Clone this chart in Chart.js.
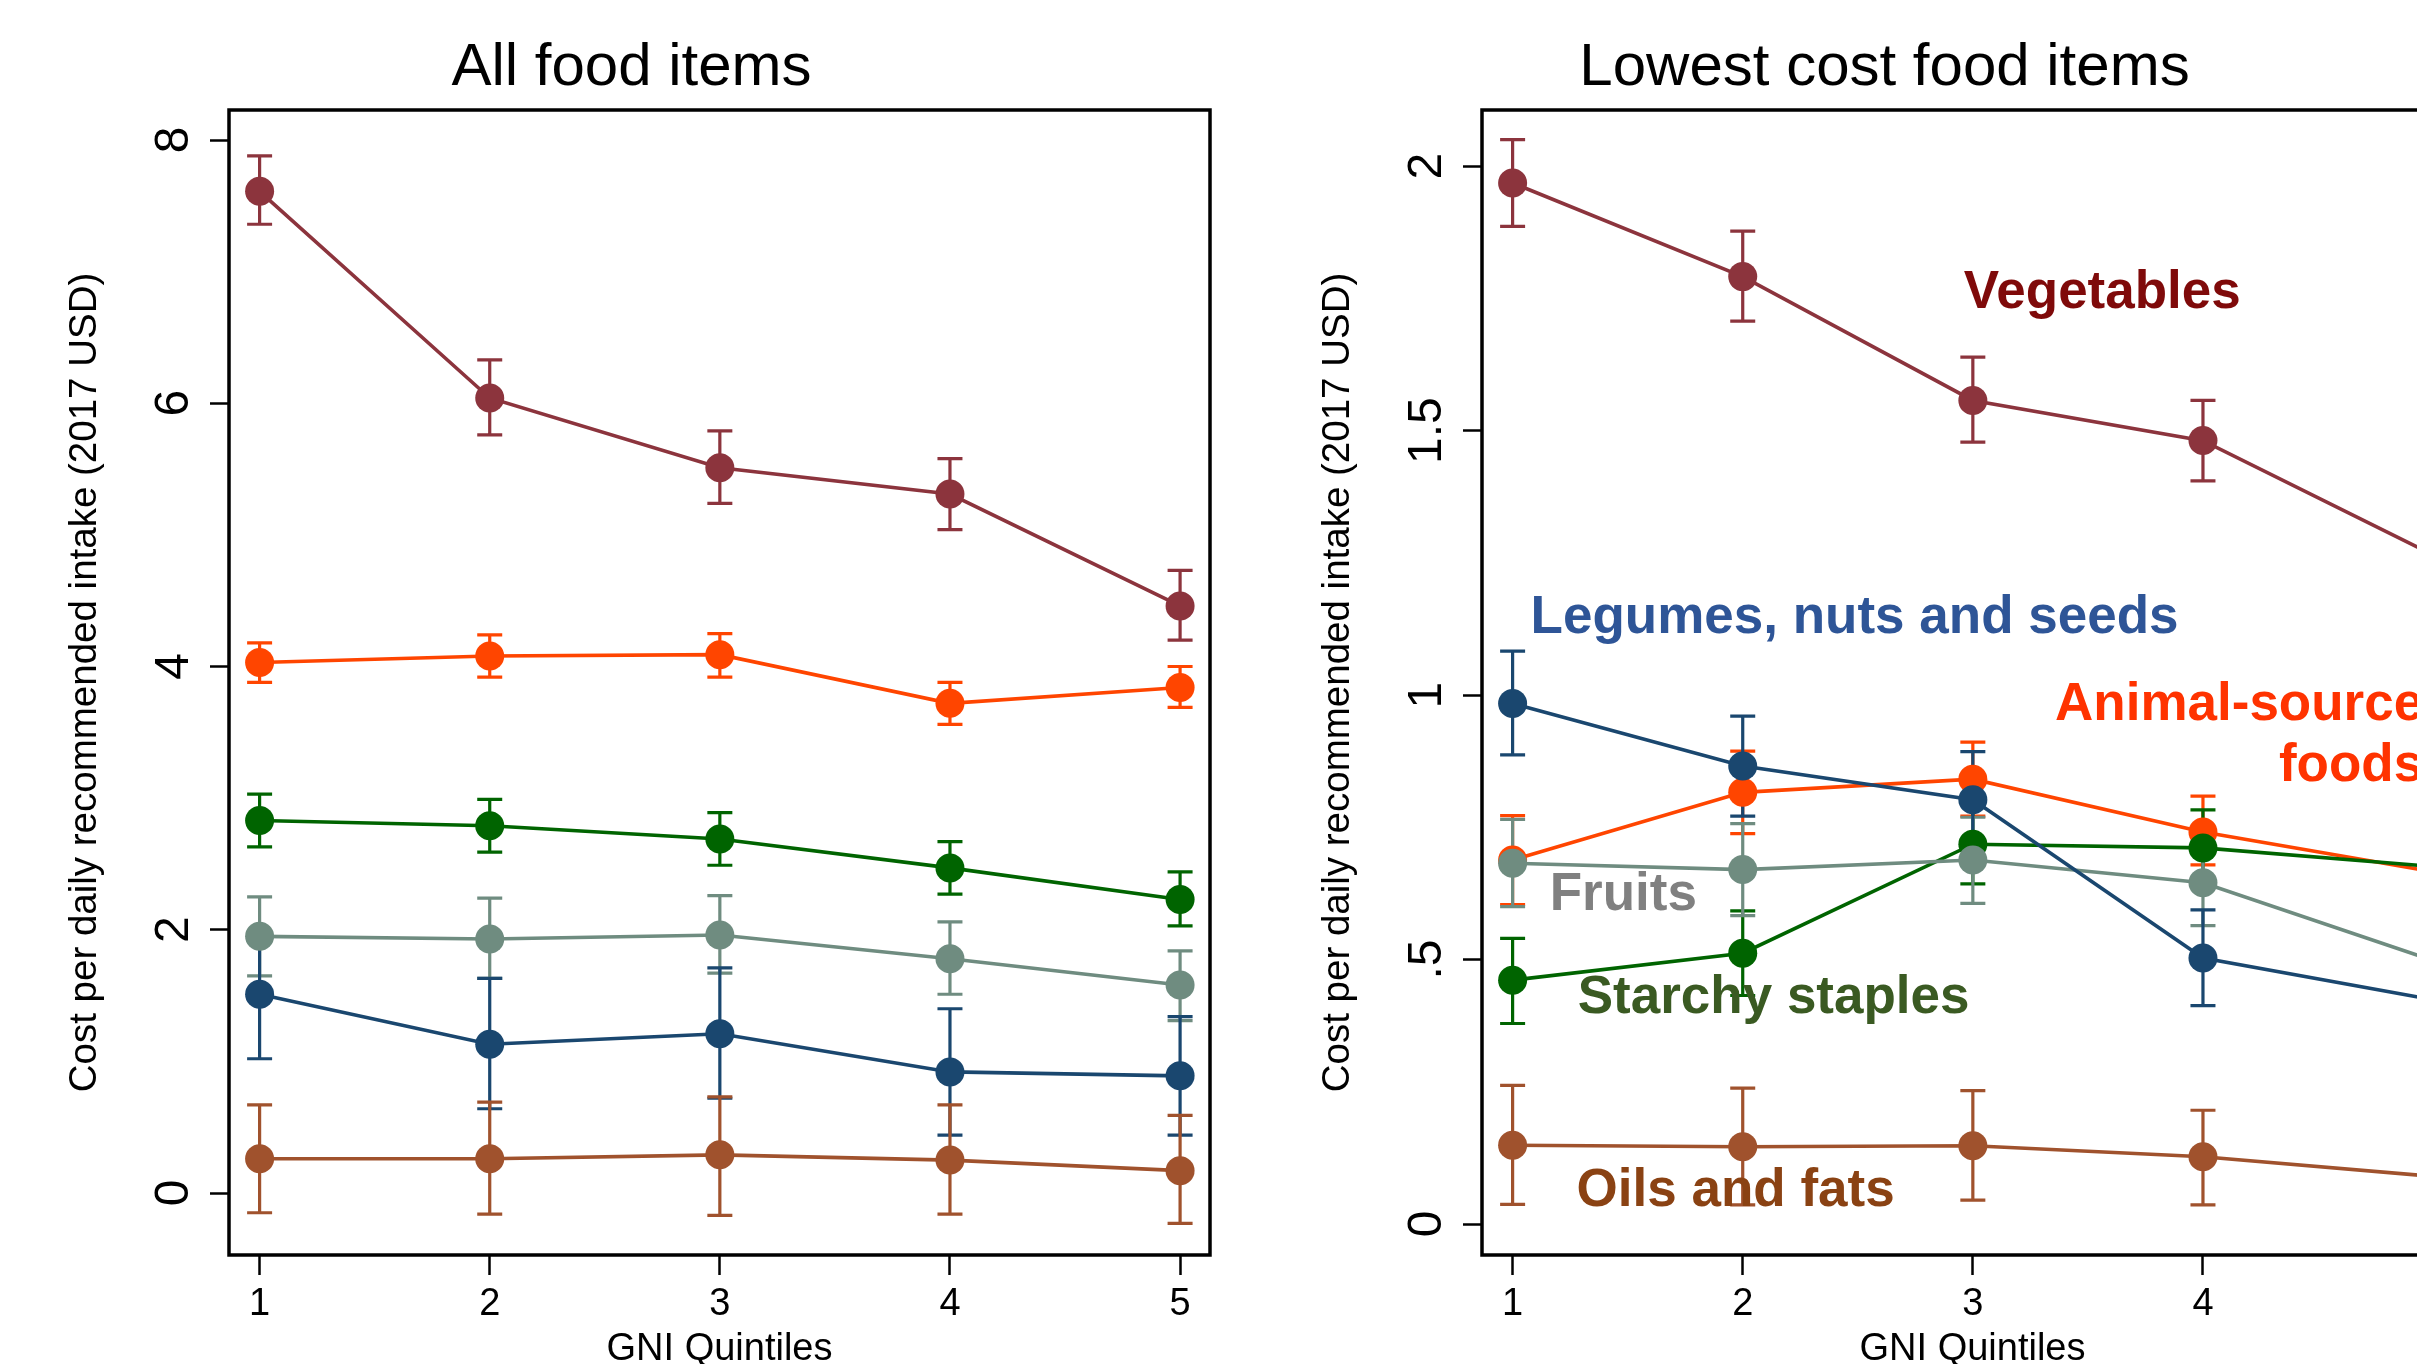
<!DOCTYPE html>
<html>
<head>
<meta charset="utf-8">
<title>Cost per daily recommended intake by GNI quintile</title>
<script src="https://cdn.jsdelivr.net/npm/chart.js@4.4.1/dist/chart.umd.min.js"></script>
<style>
  html, body { margin: 0; padding: 0; background: #fff; overflow: hidden; }
  #wrap { position: relative; width: 2417px; height: 1364px; overflow: hidden; background: #fff; }
  canvas { position: absolute; top: 0; }
  #allItems { left: 0; width: 1240px; height: 1364px; }
  #lowestItems { left: 1240px; width: 1300px; height: 1364px; }
</style>
</head>
<body>
<div id="wrap">
  <canvas id="allItems" width="1240" height="1364"></canvas>
  <canvas id="lowestItems" width="1300" height="1364"></canvas>
</div>
<script>
// ---- data -------------------------------------------------------------
const quintiles = [1, 2, 3, 4, 5];
const quintileLabels = ['1', '2', '3', '4', '5'];

const seriesNames = ['Vegetables', 'Animal-source foods', 'Starchy staples',
                     'Fruits', 'Legumes, nuts and seeds', 'Oils and fats'];

// All food items: mean cost and 95% interval
const vegAll      = [7.61, 6.04, 5.51, 5.31, 4.46];
const vegAllLo    = [7.36, 5.76, 5.24, 5.04, 4.20];
const vegAllHi    = [7.88, 6.33, 5.79, 5.58, 4.73];
const animalAll   = [4.03, 4.08, 4.09, 3.72, 3.84];
const animalAllLo = [3.88, 3.92, 3.92, 3.56, 3.69];
const animalAllHi = [4.18, 4.24, 4.25, 3.88, 4.00];
const starchAll   = [2.83, 2.79, 2.69, 2.47, 2.23];
const starchAllLo = [2.63, 2.59, 2.49, 2.27, 2.03];
const starchAllHi = [3.03, 2.99, 2.89, 2.67, 2.44];
const fruitAll    = [1.95, 1.93, 1.96, 1.78, 1.58];
const fruitAllLo  = [1.65, 1.63, 1.67, 1.51, 1.31];
const fruitAllHi  = [2.25, 2.24, 2.26, 2.06, 1.84];
const legumeAll   = [1.51, 1.13, 1.21, 0.92, 0.89];
const legumeAllLo = [1.02, 0.64, 0.72, 0.44, 0.44];
const legumeAllHi = [1.99, 1.63, 1.71, 1.40, 1.34];
const oilAll      = [0.26, 0.26, 0.29, 0.25, 0.17];
const oilAllLo    = [-0.15, -0.16, -0.17, -0.16, -0.23];
const oilAllHi    = [0.67, 0.69, 0.73, 0.67, 0.59];

// Lowest cost food items: mean cost and 95% interval
const vegLow      = [1.968, 1.791, 1.557, 1.481, 1.265];
const vegLowLo    = [1.886, 1.707, 1.478, 1.405, 1.180];
const vegLowHi    = [2.050, 1.877, 1.639, 1.557, 1.350];
const animalLow   = [0.688, 0.816, 0.841, 0.741, 0.666];
const animalLowLo = [0.604, 0.738, 0.771, 0.679, 0.590];
const animalLowHi = [0.772, 0.894, 0.911, 0.809, 0.740];
const starchLow   = [0.461, 0.512, 0.718, 0.711, 0.676];
const starchLowLo = [0.379, 0.432, 0.643, 0.639, 0.600];
const starchLowHi = [0.540, 0.592, 0.793, 0.783, 0.750];
const fruitLow    = [0.682, 0.670, 0.688, 0.645, 0.498];
const fruitLowLo  = [0.600, 0.583, 0.606, 0.564, 0.420];
const fruitLowHi  = [0.765, 0.757, 0.769, 0.722, 0.580];
const legumeLow   = [0.984, 0.866, 0.802, 0.503, 0.424];
const legumeLowLo = [0.887, 0.771, 0.711, 0.413, 0.340];
const legumeLowHi = [1.083, 0.960, 0.893, 0.594, 0.510];
const oilLow      = [0.149, 0.146, 0.148, 0.127, 0.090];
const oilLowLo    = [0.037, 0.036, 0.045, 0.036, 0.000];
const oilLowHi    = [0.262, 0.257, 0.252, 0.215, 0.180];

// axis ticks
const yTicksAll = [0, 2, 4, 6, 8];
const yTickLabelsAll = ['0', '2', '4', '6', '8'];
const yTicksLow = [0, 0.5, 1, 1.5, 2];
const yTickLabelsLow = ['0', '.5', '1', '1.5', '2'];

// ---- styling ----------------------------------------------------------
const lineColors = ['#8C343D', '#FF4500', '#006400', '#6F8C80', '#1A476F', '#A0522D'];
const textColors = ['#7F0A0A', '#FF3300', '#3A5A22', '#808080', '#2E5597', '#8A4213'];
const FONT = '"Liberation Sans", Arial, Helvetica, sans-serif';

function makeDatasets(values) {
  // draw order: oils on top, vegetables at the bottom
  return values.map((v, i) => ({
    label: seriesNames[i],
    data: quintiles.map((q, j) => ({ x: q, y: v[j] })),
    borderColor: lineColors[i],
    backgroundColor: lineColors[i],
    pointBackgroundColor: lineColors[i],
    pointBorderWidth: 0,
    pointRadius: 14.5,
    borderWidth: 3.6,
    tension: 0,
    order: values.length - i
  }));
}

function panelDecor(p) {
  return {
    id: 'panelDecor',
    beforeDatasetsDraw(chart) {
      const { ctx, scales: { x, y } } = chart;
      ctx.save();
      ctx.lineWidth = 3.2;
      p.bands.forEach((b, k) => {
        ctx.strokeStyle = lineColors[k];
        quintiles.forEach((q, i) => {
          const px = x.getPixelForValue(q);
          const y1 = y.getPixelForValue(b[0][i]);
          const y2 = y.getPixelForValue(b[1][i]);
          ctx.beginPath();
          ctx.moveTo(px, y1); ctx.lineTo(px, y2);
          ctx.moveTo(px - 12.5, y1); ctx.lineTo(px + 12.5, y1);
          ctx.moveTo(px - 12.5, y2); ctx.lineTo(px + 12.5, y2);
          ctx.stroke();
        });
      });
      ctx.restore();
    },
    afterDatasetsDraw(chart) {
      const { ctx, scales: { x, y } } = chart;
      ctx.save();
      ctx.font = 'bold 53px ' + FONT;
      ctx.textBaseline = 'alphabetic';
      (p.notes || []).forEach(n => {
        ctx.fillStyle = textColors[n.series];
        ctx.textAlign = n.align;
        n.lines.forEach((t, li) => {
          ctx.fillText(t, x.getPixelForValue(n.x), y.getPixelForValue(n.y) + li * 61);
        });
      });
      ctx.restore();
    },
    afterDraw(chart) {
      const { ctx, chartArea: a, scales: { x, y } } = chart;
      ctx.save();
      // plot region outline
      ctx.strokeStyle = '#000';
      ctx.lineWidth = 3.5;
      ctx.strokeRect(a.left, a.top, a.right - a.left, a.bottom - a.top);
      ctx.fillStyle = '#000';
      ctx.textBaseline = 'alphabetic';
      ctx.textAlign = 'center';
      // panel title
      ctx.font = '60px ' + FONT;
      ctx.fillText(p.title, (a.left + a.right) / 2 - 88, 85);
      // x tick labels and title
      ctx.font = '38px ' + FONT;
      x.ticks.forEach((t, i) => {
        ctx.fillText(quintileLabels[i], x.getPixelForValue(t.value), a.bottom + 60);
      });
      ctx.fillText('GNI Quintiles', (a.left + a.right) / 2, a.bottom + 105);
      // y tick labels, rotated
      ctx.font = '48px ' + FONT;
      y.ticks.forEach((t, i) => {
        ctx.save();
        ctx.translate(a.left - 41, y.getPixelForValue(t.value));
        ctx.rotate(-Math.PI / 2);
        ctx.fillText(p.yLabels[i], 0, 0);
        ctx.restore();
      });
      // y title
      ctx.font = '38.5px ' + FONT;
      ctx.translate(a.left - 133, (a.top + a.bottom) / 2);
      ctx.rotate(-Math.PI / 2);
      ctx.fillText('Cost per daily recommended intake (2017 USD)', 0, 0);
      ctx.restore();
    }
  };
}

function makeChart(id, cfg) {
  return new Chart(document.getElementById(id), {
    type: 'line',
    data: { datasets: makeDatasets(cfg.values) },
    options: {
      responsive: false,
      animation: false,
      events: [],
      layout: { autoPadding: false, padding: { top: 110, right: cfg.padRight, left: 0, bottom: 0 } },
      plugins: { legend: { display: false }, title: { display: false }, tooltip: { enabled: false } },
      scales: {
        x: {
          type: 'linear', min: 0.867, max: 5.13,
          afterBuildTicks: s => { s.ticks = quintiles.map(v => ({ value: v })); },
          afterFit: s => { s.height = 109; },
          ticks: { display: false },
          border: { display: false },
          grid: { drawOnChartArea: false, drawTicks: true, tickLength: 20, tickWidth: 2.5, tickColor: '#000' }
        },
        y: {
          type: 'linear', min: cfg.yMin, max: cfg.yMax,
          afterBuildTicks: s => { s.ticks = cfg.yTicks.map(v => ({ value: v })); },
          afterFit: s => { s.width = cfg.yWidth; },
          ticks: { display: false },
          border: { display: false },
          grid: { drawOnChartArea: false, drawTicks: true, tickLength: 19, tickWidth: 2.5, tickColor: '#000' }
        }
      }
    },
    plugins: [panelDecor(cfg)]
  });
}

makeChart('allItems', {
  title: 'All food items',
  values: [vegAll, animalAll, starchAll, fruitAll, legumeAll, oilAll],
  bands: [[vegAllLo, vegAllHi], [animalAllLo, animalAllHi], [starchAllLo, starchAllHi],
          [fruitAllLo, fruitAllHi], [legumeAllLo, legumeAllHi], [oilAllLo, oilAllHi]],
  yTicks: yTicksAll, yLabels: yTickLabelsAll,
  yMin: -0.471, yMax: 8.228, yWidth: 229, padRight: 30
});

makeChart('lowestItems', {
  title: 'Lowest cost food items',
  values: [vegLow, animalLow, starchLow, fruitLow, legumeLow, oilLow],
  bands: [[vegLowLo, vegLowHi], [animalLowLo, animalLowHi], [starchLowLo, starchLowHi],
          [fruitLowLo, fruitLowHi], [legumeLowLo, legumeLowHi], [oilLowLo, oilLowHi]],
  yTicks: yTicksLow, yLabels: yTickLabelsLow,
  yMin: -0.0586, yMax: 2.106, yWidth: 242, padRight: 77,
  notes: [
    { series: 0, x: 2.961, y: 1.732, align: 'left',  lines: ['Vegetables'] },
    { series: 4, x: 1.078, y: 1.117, align: 'left',  lines: ['Legumes, nuts and seeds'] },
    { series: 1, x: 4.957, y: 0.953, align: 'right', lines: ['Animal-source', 'foods'] },
    { series: 3, x: 1.161, y: 0.594, align: 'left',  lines: ['Fruits'] },
    { series: 2, x: 1.283, y: 0.399, align: 'left',  lines: ['Starchy staples'] },
    { series: 5, x: 1.278, y: 0.034, align: 'left',  lines: ['Oils and fats'] }
  ]
});
</script>
</body>
</html>
